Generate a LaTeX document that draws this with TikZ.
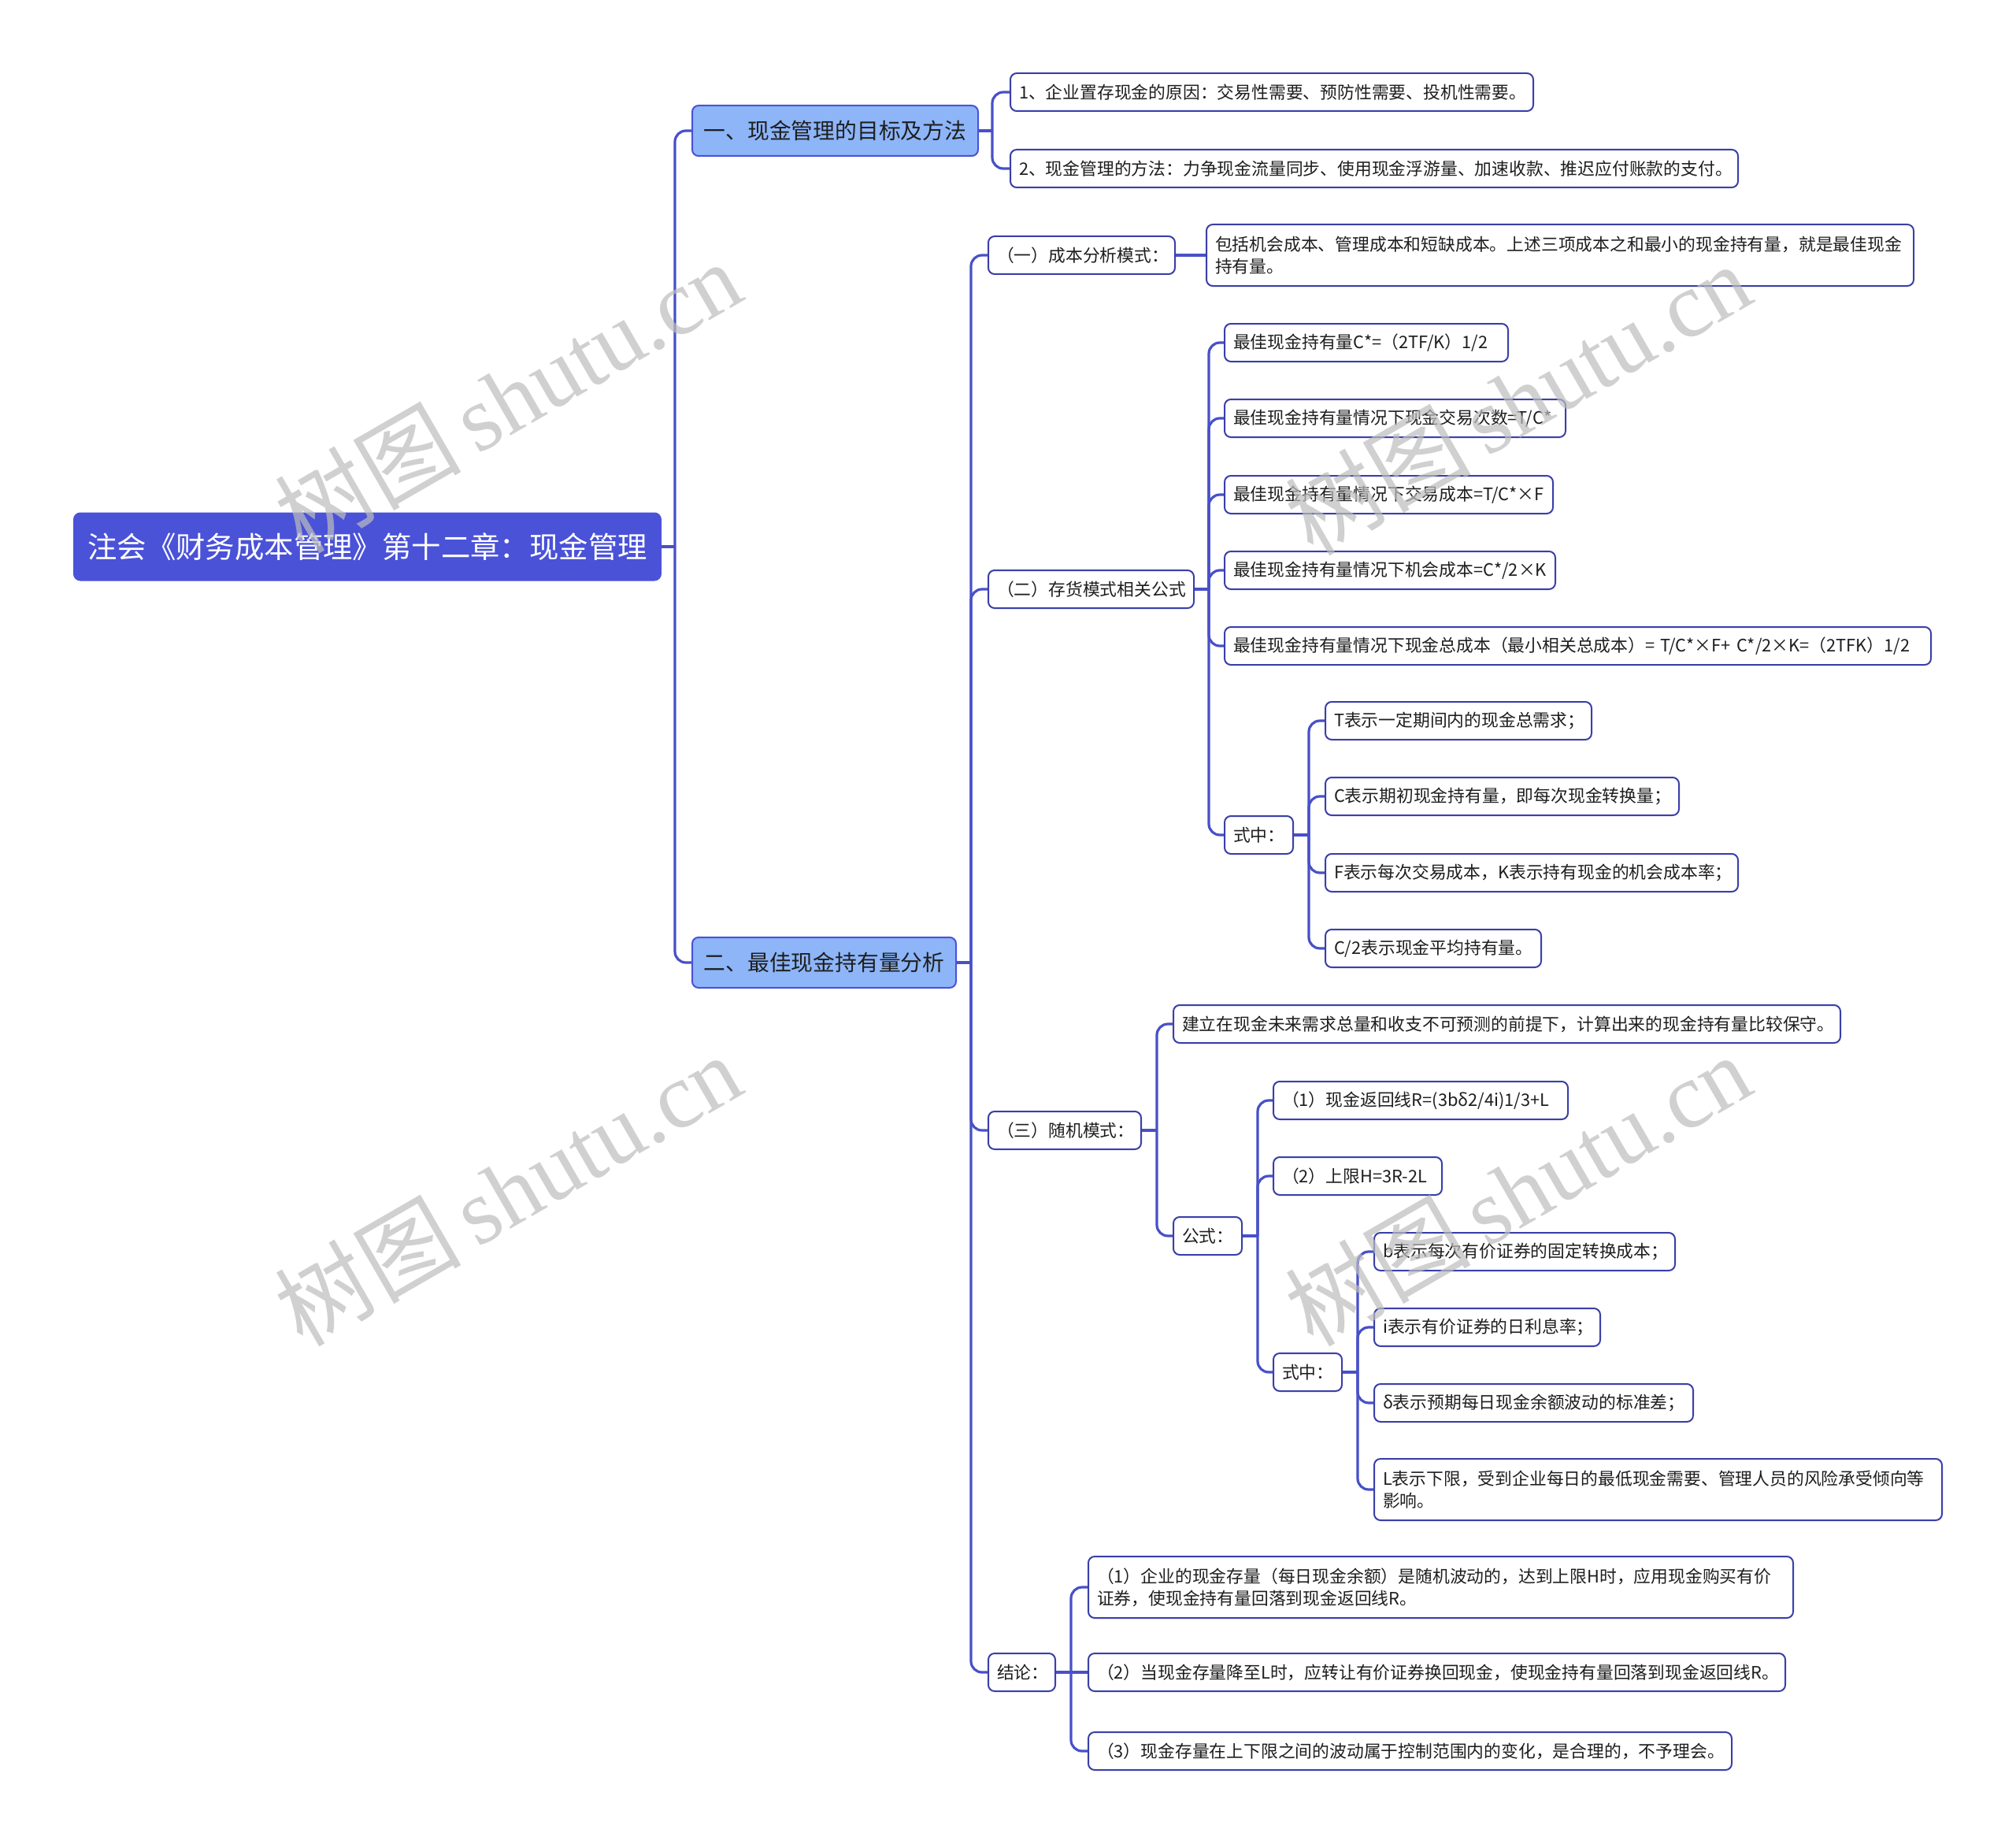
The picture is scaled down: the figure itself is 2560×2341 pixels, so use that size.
\documentclass[tikz,border=0pt]{standalone}
\usepackage{fontspec}
\setmainfont{Noto Sans CJK SC}
\newfontfamily\wmlatin{Liberation Serif}
\definecolor{rootc}{HTML}{4A52D8}
\definecolor{lonec}{HTML}{8DB5F8}
\definecolor{connc}{HTML}{4850C8}
\definecolor{bordc}{HTML}{3A3FA8}
\definecolor{txtc}{HTML}{1E1E1E}
\definecolor{wmc}{HTML}{BDBDBD}
\begin{document}
\begin{tikzpicture}[x=1pt,y=-1pt,
  rootbox/.style={draw=rootc, fill=rootc, line width=2, rounded corners=8, text=white, font=\fontsize{37.4}{44}\selectfont, anchor=west, align=center, inner sep=0},
  lonebox/.style={draw=rootc, fill=lonec, line width=2, rounded corners=8, text=txtc, font=\fontsize{27.8}{34}\selectfont, anchor=west, align=center, inner sep=0},
  leaf/.style={draw=bordc, fill=white, line width=2, rounded corners=8, text=txtc, font=\fontsize{21.8}{28}\selectfont, anchor=west, align=left, inner xsep=11, inner ysep=0, minimum height=48},
  tall/.style={minimum height=78},
  conn/.style={draw=connc, line width=3.2, rounded corners=14},
  wm/.style={text=wmc, rotate=30, font=\fontsize{118}{118}\selectfont, opacity=0.7}
]
\useasboundingbox (0,0) rectangle (2560,2341);
\fill[white] (0,0) rectangle (2560,2341);

% root and level 1
\node[rootbox, minimum width=745, minimum height=85] (root) at (93,694) {注会《财务成本管理》第十二章：现金管理};
\node[lonebox, minimum width=363, minimum height=64] (la) at (878,166) {一、现金管理的目标及方法};
\node[lonebox, minimum width=335, minimum height=64] (lb) at (878,1222) {二、最佳现金持有量分析};

% under la
\node[leaf, text width=642] (a1) at (1282,117) {1、企业置存现金的原因：交易性需要、预防性需要、投机性需要。};
\node[leaf, text width=902] (a2) at (1282,214) {2、现金管理的方法：力争现金流量同步、使用现金浮游量、加速收款、推迟应付账款的支付。};

% under lb
\node[leaf, text width=215] (b1) at (1254,324) {（一）成本分析模式：};
\node[leaf, tall, text width=876] (b1c) at (1531,324) {包括机会成本、管理成本和短缺成本。上述三项成本之和最小的现金持有量，就是最佳现金\\持有量。};
\node[leaf, text width=239] (b2) at (1254,748) {（二）存货模式相关公式};
\node[leaf, text width=338] (c1) at (1554,435) {最佳现金持有量C*=（2TF/K）1/2};
\node[leaf, text width=411] (c2) at (1554,531) {最佳现金持有量情况下现金交易次数=T/C*};
\node[leaf, text width=395] (c3) at (1554,628) {最佳现金持有量情况下交易成本=T/C*×F};
\node[leaf, text width=398] (c4) at (1554,724) {最佳现金持有量情况下机会成本=C*/2×K};
\node[leaf, text width=875] (c5) at (1554,820) {最佳现金持有量情况下现金总成本（最小相关总成本）=~T/C*×F+~C*/2×K=（2TFK）1/2};
\node[leaf, text width=65] (c6) at (1554,1060) {式中：};
\node[leaf, text width=316] (d1) at (1682,915) {T表示一定期间内的现金总需求；};
\node[leaf, text width=427] (d2) at (1682,1011) {C表示期初现金持有量，即每次现金转换量；};
\node[leaf, text width=502] (d3) at (1682,1108) {F表示每次交易成本，K表示持有现金的机会成本率；};
\node[leaf, text width=252] (d4) at (1682,1204) {C/2表示现金平均持有量。};

\node[leaf, text width=172] (b3) at (1254,1435) {（三）随机模式：};
\node[leaf, text width=825] (e1) at (1489,1300) {建立在现金未来需求总量和收支不可预测的前提下，计算出来的现金持有量比较保守。};
\node[leaf, text width=65] (e2) at (1489,1569) {公式：};
\node[leaf, text width=352] (f1) at (1616,1397) {（1）现金返回线R=(3bδ2/4i)1/3+L};
\node[leaf, text width=192] (f2) at (1616,1493) {（2）上限H=3R-2L};
\node[leaf, text width=65] (f3) at (1616,1742) {式中：};
\node[leaf, text width=360] (g1) at (1744,1589) {b表示每次有价证券的固定转换成本；};
\node[leaf, text width=265] (g2) at (1744,1685) {i表示有价证券的日利息率；};
\node[leaf, text width=383] (g3) at (1744,1781) {δ表示预期每日现金余额波动的标准差；};
\node[leaf, tall, text width=699] (g4) at (1744,1891) {L表示下限，受到企业每日的最低现金需要、管理人员的风险承受倾向等\\影响。};

\node[leaf, text width=63] (b4) at (1254,2123) {结论：};
\node[leaf, tall, text width=873] (h1) at (1381,2015) {（1）企业的现金存量（每日现金余额）是随机波动的，达到上限H时，应用现金购买有价\\证券，使现金持有量回落到现金返回线R。};
\node[leaf, text width=863] (h2) at (1381,2123) {（2）当现金存量降至L时，应转让有价证券换回现金，使现金持有量回落到现金返回线R。};
\node[leaf, text width=795] (h3) at (1381,2223) {（3）现金存量在上下限之间的波动属于控制范围内的变化，是合理的，不予理会。};

% junctions
\coordinate (J0) at (857,694);
\coordinate (J1) at (1260,166);
\coordinate (J2) at (1233,1222);
\coordinate (J3) at (1535,748);
\coordinate (J4) at (1662,1060);
\coordinate (J5) at (1469,1435);
\coordinate (J6) at (1597,1569);
\coordinate (J7) at (1724,1742);
\coordinate (J8) at (1360,2123);

% connectors
\draw[conn] (root.east) -- (J0);
\draw[conn] (J0) |- (la.west);
\draw[conn] (J0) |- (lb.west);

\draw[conn] (la.east) -- (J1);
\draw[conn] (J1) |- (a1.west);
\draw[conn] (J1) |- (a2.west);

\draw[conn] (lb.east) -- (J2);
\draw[conn] (J2) |- (b1.west);
\draw[conn] (J2) |- (b2.west);
\draw[conn] (J2) |- (b3.west);
\draw[conn] (J2) |- (b4.west);

\draw[conn] (b1.east) -- (b1c.west);

\draw[conn] (b2.east) -- (J3);
\foreach \n in {c1,c2,c3,c4,c5,c6} \draw[conn] (J3) |- (\n.west);

\draw[conn] (c6.east) -- (J4);
\foreach \n in {d1,d2,d3,d4} \draw[conn] (J4) |- (\n.west);

\draw[conn] (b3.east) -- (J5);
\draw[conn] (J5) |- (e1.west);
\draw[conn] (J5) |- (e2.west);

\draw[conn] (e2.east) -- (J6);
\foreach \n in {f1,f2,f3} \draw[conn] (J6) |- (\n.west);

\draw[conn] (f3.east) -- (J7);
\foreach \n in {g1,g2,g3,g4} \draw[conn] (J7) |- (\n.west);

\draw[conn] (b4.east) -- (J8);
\draw[conn] (J8) |- (h1.west);
\draw[conn] (J8) -- (h2.west);
\draw[conn] (J8) |- (h3.west);

% watermarks
\foreach \wx/\wy [count=\i] in {645/503, 1927/506, 645/1510, 1927/1510}
  \node[wm] (wm\i) at (\wx,\wy) {树图\,{\wmlatin shutu.cn}};
\end{tikzpicture}
\end{document}
